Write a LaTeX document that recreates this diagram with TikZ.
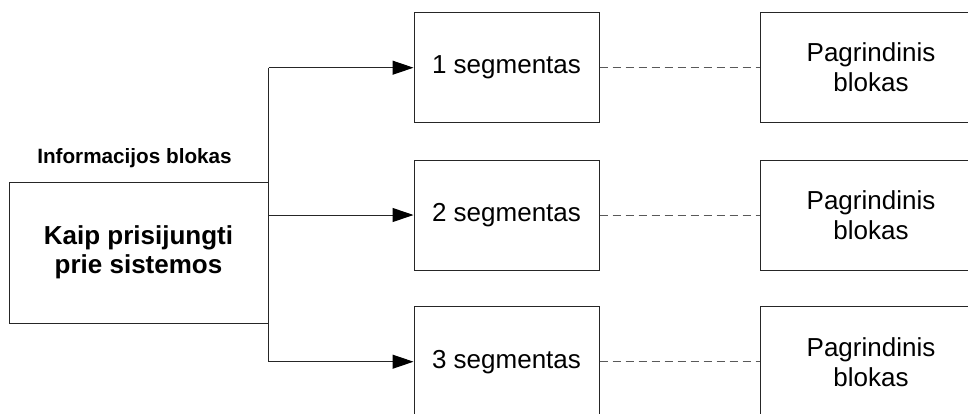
\documentclass[tikz,border=0pt]{standalone}
\usepackage{fontspec}
\setmainfont{Liberation Sans}
\usetikzlibrary{arrows.meta}

\tikzset{
  box/.style={draw=black!85, line width=1pt, fill=white, align=center,
    inner sep=0pt, font=\fontsize{26}{30}\selectfont},
  segbox/.style={box, minimum width=185pt, minimum height=110pt},
  mainbox/.style={box, minimum width=222pt, minimum height=110pt},
  infobox/.style={box, minimum width=259pt, minimum height=141pt,
    font=\bfseries\fontsize{26}{29}\selectfont},
  caption/.style={font=\bfseries\fontsize{20.7}{24}\selectfont, inner sep=0pt},
  link/.style={draw=black!85, line width=1pt},
  flow/.style={link, -{Triangle[length=21pt, width=14pt, fill=black, color=black]}},
  tie/.style={draw=black!65, line width=1pt, dash pattern=on 8pt off 5pt},
}

\begin{document}
\begin{tikzpicture}[x=1pt, y=-1pt]
  \clip (0,0) rectangle (968,413);
  \fill[white] (0,0) rectangle (968,413);

  % source block with its caption
  \node[infobox] (src) at (138.5,252.5) {Kaip prisijungti\\prie sistemos};
  \node[caption] (cap) at (134.5,158) {Informacijos blokas};

  % segment blocks
  \node[segbox] (s1) at (506.5,67.7)  {1 segmentas};
  \node[segbox] (s2) at (506.5,215)   {2 segmentas};
  \node[segbox] (s3) at (506.5,361.7) {3 segmentas};

  % main blocks on the right
  \node[mainbox] (m1) at (871,67.7)  {Pagrindinis\\blokas};
  \node[mainbox] (m2) at (871,215)   {Pagrindinis\\blokas};
  \node[mainbox] (m3) at (871,361.7) {Pagrindinis\\blokas};

  % branching connectors
  \coordinate (j1) at (src.east |- s1.west);
  \coordinate (j2) at (src.east |- s2.west);
  \coordinate (j3) at (src.east |- s3.west);
  \draw[link] (j1) -- (j3);
  \draw[flow] (j1) -- (s1.west);
  \draw[flow] (j2) -- (s2.west);
  \draw[flow] (j3) -- (s3.west);

  % dashed ties between segments and main blocks
  \draw[tie] (s1.east) -- (m1.west);
  \draw[tie] (s2.east) -- (m2.west);
  \draw[tie] (s3.east) -- (m3.west);
\end{tikzpicture}
\end{document}
